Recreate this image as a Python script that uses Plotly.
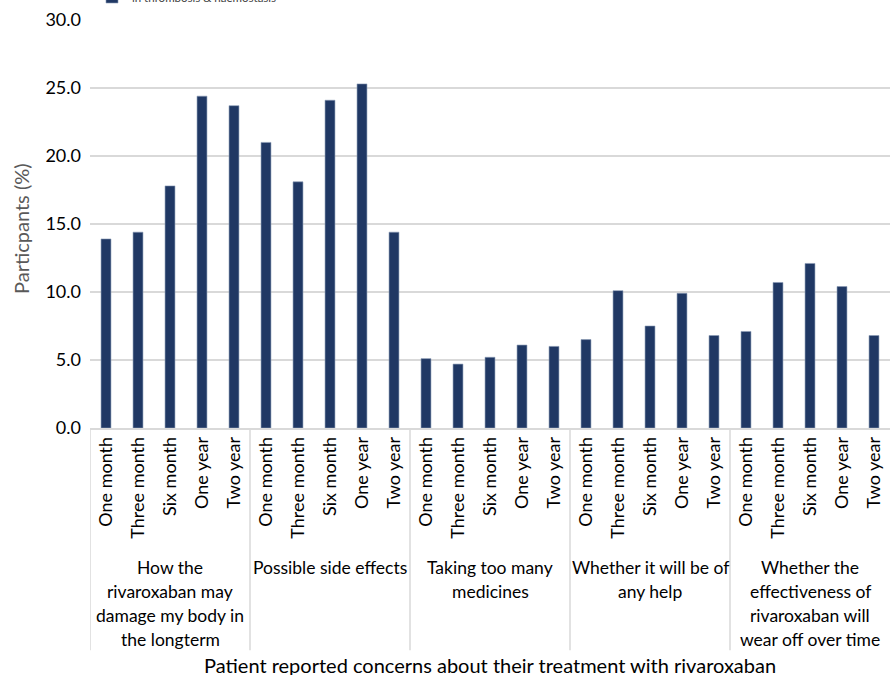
import plotly.graph_objects as go

groups = [
    ["How the", "rivaroxaban may", "damage my body in", "the longterm"],
    ["Possible side effects"],
    ["Taking too many", "medicines"],
    ["Whether it will be of", "any help"],
    ["Whether the", "effectiveness of", "rivaroxaban will", "wear off over time"],
]
periods = ["One month", "Three month", "Six month", "One year", "Two year"]
values = [
    13.9, 14.4, 17.8, 24.4, 23.7,
    21.0, 18.1, 24.1, 25.3, 14.4,
    5.1, 4.7, 5.2, 6.1, 6.0,
    6.5, 10.1, 7.5, 9.9, 6.8,
    7.1, 10.7, 12.1, 10.4, 6.8,
]
y_ticks = [0, 5, 10, 15, 20, 25, 30]

FONT = "Lato"
n_per = len(periods)
xs = list(range(len(values)))
ticktext = periods * len(groups)

fig = go.Figure()
fig.add_trace(go.Bar(
    x=xs, y=values, width=0.31,
    marker=dict(color="#203864", line=dict(color="#8a9ab5", width=0.6)),
    name="in thrombosis & haemostasis", showlegend=True,
))

shapes = []
for g in range(len(groups)):
    xb = g * n_per - 0.5
    shapes.append(dict(type="line", xref="x", yref="paper", x0=xb, x1=xb,
                       y0=0, y1=-0.545, line=dict(color="#d9d9d9", width=1.5)))

H = 408.0
annotations = []
line_h = 24
for g, lines in enumerate(groups):
    cx = g * n_per + (n_per - 1) / 2
    for i, ln in enumerate(lines):
        py = 567 + i * line_h
        annotations.append(dict(text=ln, xref="x", yref="paper", x=cx,
                                y=(428 - py) / H, xanchor="center", yanchor="middle",
                                showarrow=False,
                                font=dict(family=FONT, size=17.5, color="#000000")))
annotations.append(dict(text="Patient reported concerns about their treatment with rivaroxaban",
                        xref="paper", yref="paper", x=0.5, y=(428 - 665) / H,
                        xanchor="center", yanchor="middle", showarrow=False,
                        font=dict(family=FONT, size=20, color="#000000")))
annotations.append(dict(text="Particpants (%)", xref="paper", yref="paper",
                        x=(21 - 90) / 800.0, y=(428 - 229) / H, textangle=-90,
                        xanchor="center", yanchor="middle", showarrow=False,
                        font=dict(family=FONT, size=20, color="#595959")))

fig.update_layout(
    width=890, height=675,
    margin=dict(l=90, r=0, t=20, b=247, autoexpand=False),
    plot_bgcolor="white", paper_bgcolor="white",
    font=dict(family=FONT, size=16, color="#000000"),
    shapes=shapes,
    annotations=annotations,
    legend=dict(x=(92 - 90) / 800.0, y=(428 + 3) / H, xanchor="left", yanchor="middle",
                font=dict(family=FONT, size=11.5, color="#404040"),
                bgcolor="rgba(0,0,0,0)", itemwidth=30),
    xaxis=dict(
        range=[-0.5, len(values) - 0.5],
        tickmode="array", tickvals=xs, ticktext=ticktext,
        tickangle=-90, showgrid=False, zeroline=False,
        showline=True, linecolor="#d9d9d9", linewidth=1.5,
        ticks="", tickfont=dict(family=FONT, size=18, color="#000000"),
        automargin=False,
    ),
    yaxis=dict(
        range=[0, 30], tickmode="array", tickvals=y_ticks,
        tickformat=".1f", showgrid=True, gridcolor="#d9d9d9", gridwidth=1.5,
        zeroline=False, showline=False, ticks="",
        tickfont=dict(family=FONT, size=18, color="#000000"),
        ticklabelstandoff=8,
        automargin=False,
    ),
)

fig.write_html("out.html")
